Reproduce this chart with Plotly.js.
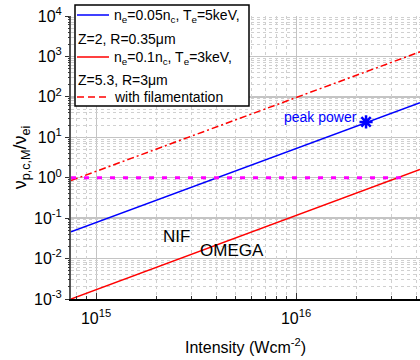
<!DOCTYPE html>
<html><head><meta charset="utf-8">
<script src="https://cdn.plot.ly/plotly-3.0.1.min.js"></script>
<style>body{margin:0;padding:0;background:#fff}#chart{width:420px;height:360px}</style>
</head><body><div id="chart"></div>
<script>
// Data
const intensity = [7.5e14, 4.17e16];
const nifValues = [0.046, 72];
const omegaValues = [0.001, 1.6];
const filamentValues = [0.85, 1300];
const thresholdX = [7.5e14, 3.5e16];
const thresholdY = [1, 1];
const peakX = [2.24e16];
const peakY = [24];

const yTickVals = [1e-3, 1e-2, 1e-1, 1, 1e1, 1e2, 1e3, 1e4];
const yTickText = ['10<sup>-3</sup>', '10<sup>-2</sup>', '10<sup>-1</sup>', '10<sup>0</sup>',
                   '10<sup>1</sup>', '10<sup>2</sup>', '10<sup>3</sup>', '10<sup>4</sup>'];
const xTickVals = [1e15, 1e16];
const xTickText = ['10<sup>15</sup>', '10<sup>16</sup>'];
const minorMult = [2, 3, 4, 5, 6, 7, 8, 9];

const xMinor = [8e14, 9e14];
[1e15, 1e16].forEach(d => minorMult.forEach(m => xMinor.push(m * d)));
const yMinor = [];
yTickVals.slice(0, -1).forEach(d => minorMult.forEach(m => yMinor.push(m * d)));

const legendLabels = [
  'n<sub>e</sub>=0.05n<sub>c</sub>, T<sub>e</sub>=5keV,',
  'Z=2, R=0.35\u03bcm',
  'n<sub>e</sub>=0.1n<sub>c</sub>, T<sub>e</sub>=3keV,',
  'Z=5.3, R=3\u03bcm',
  'with filamentation'
];

const L = 71, T = 16, W = 349, H = 283;
const px = v => (v - L) / W;
const py = v => (T + H - v) / H;
const xRange = [14.875, 14.875 + 349 / 200];
const yRange = [-3, 4];

const traces = [
  {x: intensity, y: nifValues, mode: 'lines', line: {color: '#0000ff', width: 1.5}, showlegend: false},
  {x: intensity, y: omegaValues, mode: 'lines', line: {color: '#ff0000', width: 1.5}, showlegend: false},
  {x: intensity, y: filamentValues, mode: 'lines', line: {color: '#ff0000', width: 1.5, dash: '7px,3px,2px,3px'}, showlegend: false},
  {x: thresholdX, y: thresholdY, mode: 'lines', line: {color: '#ff00ff', width: 3, dash: '5px,8px'}, showlegend: false},
  {x: peakX, y: peakY, mode: 'markers', marker: {symbol: 'asterisk-open', size: 11, color: '#0000ff', line: {color: '#0000ff', width: 2.5}}, showlegend: false},
  // invisible carrier for the minor-grid overlay axes
  {x: intensity, y: nifValues, xaxis: 'x2', yaxis: 'y2', mode: 'lines', line: {width: 0}, opacity: 0, hoverinfo: 'skip', showlegend: false}
];

const font = {family: 'Liberation Sans, Arial, sans-serif', color: '#000'};

const shapes = [
  {type: 'rect', xref: 'paper', yref: 'paper', x0: px(75), x1: px(249), y0: py(106), y1: py(5), line: {color: '#000', width: 1.5}, fillcolor: '#fff', layer: 'above'},
  {type: 'line', xref: 'paper', yref: 'paper', x0: px(77), x1: px(109), y0: py(15), y1: py(15), line: {color: '#0000ff', width: 1.5}, layer: 'above'},
  {type: 'line', xref: 'paper', yref: 'paper', x0: px(77), x1: px(109), y0: py(57), y1: py(57), line: {color: '#ff0000', width: 1.5}, layer: 'above'},
  {type: 'line', xref: 'paper', yref: 'paper', x0: px(77), x1: px(109), y0: py(97), y1: py(97), line: {color: '#ff0000', width: 1.5, dash: '7px,4px'}, layer: 'above'}
];

const legendPos = [[112, 16], [76, 39], [112, 58], [76, 80], [112, 97]];
const annotations = legendLabels.map((t, i) => ({
  xref: 'paper', yref: 'paper', x: px(legendPos[i][0]), y: py(legendPos[i][1]),
  xanchor: 'left', yanchor: 'middle', text: t, showarrow: false,
  font: Object.assign({size: 14}, font)
}));
annotations.push(
  {x: Math.log10(2.54e15), y: Math.log10(0.035), text: 'NIF', showarrow: false, font: Object.assign({size: 17}, font)},
  {x: Math.log10(4.8e15), y: Math.log10(0.0154), text: 'OMEGA', showarrow: false, font: Object.assign({size: 17}, font)},
  {x: Math.log10(1.32e16), y: Math.log10(31), text: 'peak power', showarrow: false, font: Object.assign({}, font, {size: 14, color: '#0000ff'})}
);

const layout = {
  width: 420, height: 360,
  margin: {l: L, r: 0, t: T, b: 360 - T - H},
  paper_bgcolor: '#fff', plot_bgcolor: '#fff',
  font: Object.assign({size: 15}, font),
  showlegend: false,
  xaxis: {
    type: 'log', range: xRange,
    tickmode: 'array', tickvals: xTickVals, ticktext: xTickText,
    showline: true, linecolor: '#000', linewidth: 1.5,
    ticks: 'inside', ticklen: 6, tickcolor: '#333', tickwidth: 1,
    ticklabelstandoff: 4,
    showgrid: true, gridcolor: '#c4c4c4', gridwidth: 1, zeroline: false,
    title: {text: 'Intensity (Wcm<sup>-2</sup>)', font: Object.assign({size: 16}, font), standoff: 16},
    tickfont: Object.assign({size: 16}, font)
  },
  yaxis: {
    type: 'log', range: yRange,
    tickmode: 'array', tickvals: yTickVals, ticktext: yTickText,
    showline: true, linecolor: '#555', linewidth: 2,
    ticks: 'outside', ticklen: 4, tickcolor: '#333', tickwidth: 1,
    showgrid: true, gridcolor: '#c4c4c4', gridwidth: 1.5, zeroline: false,
    title: {text: '\u03bd<sub>p,c,M</sub>/\u03bd<sub>ei</sub>', font: Object.assign({size: 18}, font), standoff: 3},
    tickfont: Object.assign({size: 16}, font)
  },
  xaxis2: {
    type: 'log', range: xRange, overlaying: 'x', anchor: 'y2',
    tickmode: 'array', tickvals: xMinor, showticklabels: false,
    ticks: 'inside', ticklen: 3, tickcolor: '#333',
    showgrid: true, gridcolor: '#d0d0d0', griddash: 'dot', gridwidth: 1, zeroline: false, showline: false
  },
  yaxis2: {
    type: 'log', range: yRange, overlaying: 'y', anchor: 'x2', side: 'left',
    tickmode: 'array', tickvals: yMinor, showticklabels: false,
    ticks: 'outside', ticklen: 2, tickcolor: '#333',
    showgrid: true, gridcolor: '#d0d0d0', griddash: 'dot', gridwidth: 1, zeroline: false, showline: false
  },
  shapes: shapes,
  annotations: annotations
};

Plotly.newPlot('chart', traces, layout, {displayModeBar: false, staticPlot: true});
</script>
</body></html>
